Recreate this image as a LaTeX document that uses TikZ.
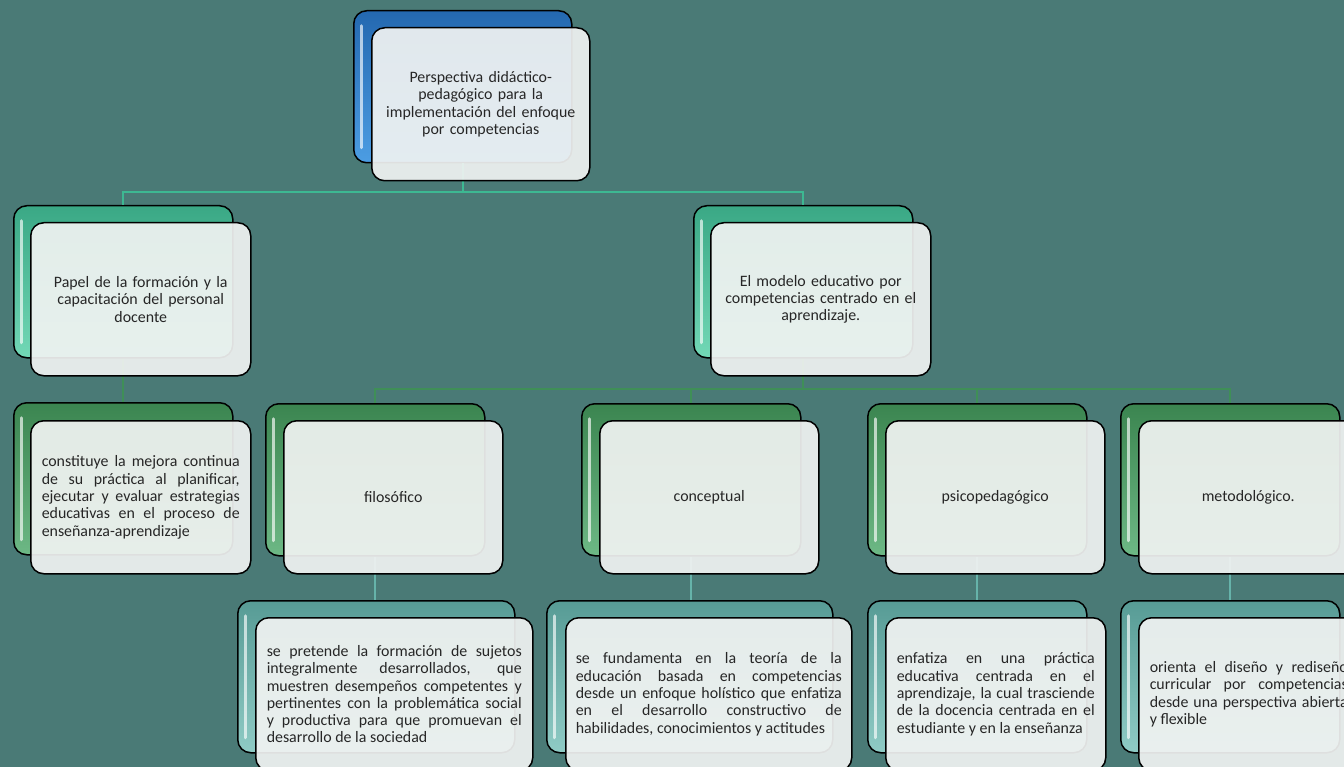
\documentclass[tikz,border=0pt]{standalone}
\usepackage{fontspec}
\setmainfont{Carlito}
\usetikzlibrary{positioning,calc}

\definecolor{fondo}{HTML}{4A7A76}
\definecolor{texto}{HTML}{262626}
\definecolor{vidrio}{HTML}{F1F3F2}
\definecolor{azulA}{HTML}{2468B0}
\definecolor{azulB}{HTML}{4C9DE3}
\definecolor{aguaA}{HTML}{3AA885}
\definecolor{aguaB}{HTML}{72D8B6}
\definecolor{verdeA}{HTML}{3B8550}
\definecolor{verdeB}{HTML}{6DB885}
\definecolor{turqA}{HTML}{579B95}
\definecolor{turqB}{HTML}{8FCBC5}
\definecolor{lineaA}{HTML}{3DB892}
\definecolor{lineaB}{HTML}{3F8F57}
\definecolor{lineaC}{HTML}{66B3AA}

\begin{document}
\begin{tikzpicture}[x=1pt,y=-1pt,
  atras/.style={draw=black, line width=1.5pt, rounded corners=13pt, anchor=north west,
    inner sep=0pt, minimum height=152pt,
    path picture={\draw[white, opacity=.65, line width=3pt, line cap=round]
      ([xshift=8pt,yshift=-15pt]path picture bounding box.north west) --
      ([xshift=8pt,yshift=15pt]path picture bounding box.south west);}},
  frente/.style={draw=black, line width=1.5pt, rounded corners=13pt, anchor=north west,
    fill=vidrio, fill opacity=.92, text opacity=1, inner sep=0pt, minimum height=153pt,
    text=texto, font=\fontsize{15.9}{17.3}\selectfont},
  centro/.style={align=center},
  bloque/.style={align=justify},
  enlace1/.style={draw=lineaA, line width=2pt},
  enlace2/.style={draw=lineaB, line width=2pt},
  enlace3/.style={draw=lineaC, line width=2pt}]

\useasboundingbox (0,0) rectangle (1344,767);
\clip (0,0) rectangle (1344,767);
\fill[fondo] (0,0) rectangle (1344,767);

% cajas de fondo
\node[atras, minimum width=218pt, top color=azulA, bottom color=azulB] (bk-raiz) at (353,10) {};
\node[atras, minimum width=219pt, top color=aguaA, bottom color=aguaB] (bk-papel) at (13,205) {};
\node[atras, minimum width=219pt, top color=aguaA, bottom color=aguaB] (bk-modelo) at (693,205) {};
\node[atras, minimum width=219pt, top color=verdeA, bottom color=verdeB] (bk-mejora) at (13,402) {};
\node[atras, minimum width=219pt, top color=verdeA, bottom color=verdeB] (bk-filo) at (265,403) {};
\node[atras, minimum width=219pt, top color=verdeA, bottom color=verdeB] (bk-concep) at (581,403) {};
\node[atras, minimum width=219pt, top color=verdeA, bottom color=verdeB] (bk-psico) at (867,403) {};
\node[atras, minimum width=219pt, top color=verdeA, bottom color=verdeB] (bk-metodo) at (1120,403) {};
\node[atras, minimum width=277pt, top color=turqA, bottom color=turqB] (bk-sujetos) at (237,600) {};
\node[atras, minimum width=286pt, top color=turqA, bottom color=turqB] (bk-teoria) at (546,600) {};
\node[atras, minimum width=219pt, top color=turqA, bottom color=turqB] (bk-practica) at (867,600) {};
\node[atras, minimum width=219pt, top color=turqA, bottom color=turqB] (bk-diseno) at (1120,600) {};

% conectores
\draw[enlace1] (bk-raiz.south) -- ++(0,29) coordinate (bus1);
\draw[enlace1] (bus1) -| (bk-papel.north);
\draw[enlace1] (bus1) -| (bk-modelo.north);
\draw[enlace2] (bk-papel.south) -- (bk-mejora.north);
\draw[enlace2] (bk-modelo.south) -- ++(0,30) coordinate (bus2);
\draw[enlace2] (bus2) -| (bk-filo.north);
\draw[enlace2] (bus2) -| (bk-concep.north);
\draw[enlace2] (bus2) -| (bk-psico.north);
\draw[enlace2] (bus2) -| (bk-metodo.north);
\draw[enlace3] (bk-filo.south) -- (bk-filo.south |- bk-sujetos.north);
\draw[enlace3] (bk-concep.south) -- (bk-concep.south |- bk-teoria.north);
\draw[enlace3] (bk-psico.south) -- (bk-practica.north);
\draw[enlace3] (bk-metodo.south) -- (bk-diseno.north);

% cajas con texto
\node[frente, centro, minimum width=218pt, text width=200pt] (raiz) at (371,27)
  {Perspectiva didáctico-\\pedagógico para la\\implementación del enfoque\\por competencias};
\node[frente, centro, minimum width=220pt, text width=200pt] (papel) at (30,222)
  {Papel de la formación y la\\capacitación del personal\\docente};
\node[frente, centro, minimum width=220pt, text width=200pt] (modelo) at (710,222)
  {El modelo educativo por\\competencias centrado en el\\aprendizaje.};
\node[frente, bloque, minimum width=220pt, text width=198pt] (mejora) at (30,420)
  {constituye la mejora continua\linebreak de su práctica al planificar,\linebreak
   ejecutar y evaluar estrategias\linebreak educativas en el proceso de\linebreak
   enseñanza-aprendizaje};
\node[frente, centro, minimum width=219pt] (filo) at (283,420) {filosófico};
\node[frente, centro, minimum width=219pt] (concep) at (599,420) {conceptual};
\node[frente, centro, minimum width=219pt] (psico) at (885,420) {psicopedagógico};
\node[frente, centro, minimum width=219pt] (metodo) at (1138,420) {metodológico.};
\node[frente, bloque, minimum width=277pt, text width=255pt] (sujetos) at (255,617)
  {se pretende la formación de sujetos\linebreak integralmente desarrollados, que\linebreak
   muestren desempeños competentes y\linebreak pertinentes con la problemática social\linebreak
   y productiva para que promuevan el\linebreak desarrollo de la sociedad};
\node[frente, bloque, minimum width=286pt, text width=266pt] (teoria) at (565,617)
  {se fundamenta en la teoría de la\linebreak educación basada en competencias\linebreak
   desde un enfoque holístico que enfatiza\linebreak en el desarrollo constructivo de\linebreak
   habilidades, conocimientos y actitudes};
\node[frente, bloque, minimum width=220pt, text width=198pt] (practica) at (885,617)
  {enfatiza en una práctica\linebreak educativa centrada en el\linebreak
   aprendizaje, la cual trasciende\linebreak de la docencia centrada en el\linebreak
   estudiante y en la enseñanza};
\node[frente, bloque, minimum width=220pt, text width=198pt] (diseno) at (1138,617)
  {orienta el diseño y rediseño\linebreak curricular por competencias\linebreak
   desde una perspectiva abierta\linebreak y flexible};
\end{tikzpicture}
\end{document}
